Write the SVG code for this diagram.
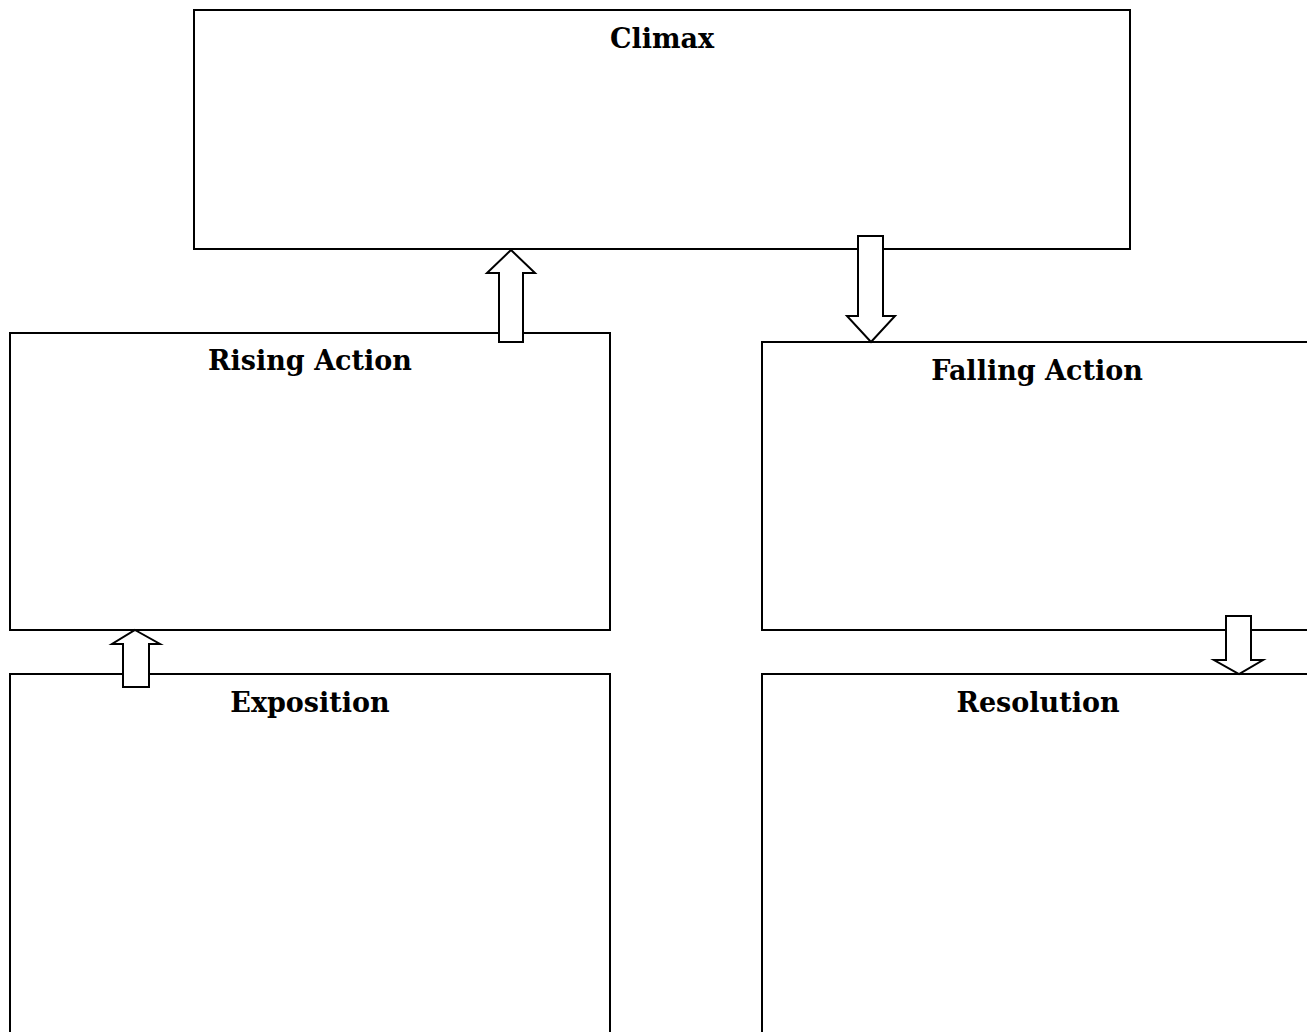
<svg xmlns="http://www.w3.org/2000/svg" width="1307" height="1032" viewBox="0 0 1307 1032">
<style>
.box{fill:#fff;stroke:#000;stroke-width:2}
.arr{fill:#fff;stroke:#000;stroke-width:2;stroke-linejoin:miter}
.t{font-family:"DejaVu Serif",serif;font-weight:bold;font-size:27px;text-anchor:middle;fill:#000}
</style>
<rect width="1307" height="1032" fill="#fff"/>
<g id="climax"><rect class="box" x="194" y="10" width="936" height="239"/><text class="t" x="662" y="48">Climax</text></g>
<g id="rising"><rect class="box" x="10" y="333" width="600" height="297"/><text class="t" x="310" y="370">Rising Action</text></g>
<g id="falling"><rect class="box" x="762" y="342" width="560" height="288"/><text class="t" x="1037" y="380">Falling Action</text></g>
<g id="exposition"><rect class="box" x="10" y="674" width="600" height="380"/><text class="t" x="310" y="712">Exposition</text></g>
<g id="resolution"><rect class="box" x="762" y="674" width="560" height="380"/><text class="t" x="1038" y="712">Resolution</text></g>
<g id="connectors">
<polygon class="arr" points="511,250 535,273 523,273 523,342 499,342 499,273 487,273"/>
<polygon class="arr" points="858,236 883,236 883,316 895,316 871,342 847,316 858,316"/>
<polygon class="arr" points="135,630 160,644 149,644 149,687 123,687 123,644 112,644"/>
<polygon class="arr" points="1226,616 1251,616 1251,660 1263,660 1239,674 1214,660 1226,660"/>
</g>
</svg>
